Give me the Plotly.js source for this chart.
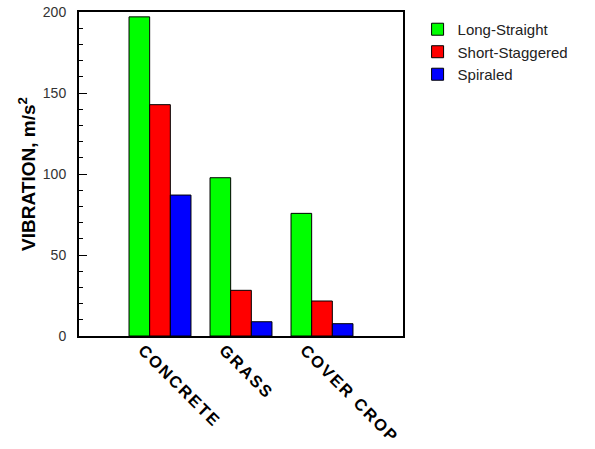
<!DOCTYPE html>
<html>
<head>
<meta charset="utf-8">
<script src="https://cdn.plot.ly/plotly-3.0.1.min.js"></script>
<style>html,body{margin:0;padding:0;background:#fff;}#chart{width:595px;height:449px;}
.xtick text{letter-spacing:2px;}</style>
</head>
<body>
<div id="chart"></div>
<script>
const categories = ["CONCRETE", "GRASS", "COVER CROP"];
const seriesNames = ["Long-Straight", "Short-Staggered", "Spiraled"];
const longStraight = [197, 97.7, 75.7];
const shortStaggered = [142.8, 28.2, 21.6];
const spiraled = [87, 8.8, 7.6];
const yTicks = [0, 50, 100, 150, 200];
const colors = ["#00FF00", "#FF0000", "#0000FF"];

const values = [longStraight, shortStaggered, spiraled];
const traces = values.map((v, i) => ({
  type: "bar",
  x: [0, 1, 2],
  y: v,
  name: seriesNames[i],
  marker: {color: colors[i], line: {color: "#000", width: 1}}
}));

const layout = {
  width: 595, height: 449,
  margin: {l: 79, r: 192, t: 12, b: 113},
  paper_bgcolor: "#fff", plot_bgcolor: "#fff",
  font: {family: "Liberation Sans, Arial, sans-serif", color: "#222"},
  barmode: "group",
  bargap: 0.235,
  bargroupgap: 0,
  showlegend: true,
  legend: {
    x: 1.045, xanchor: "left", y: 0.997, yanchor: "top",
    font: {size: 15, color: "#222"},
    bgcolor: "rgba(0,0,0,0)"
  },
  xaxis: {
    range: [-1, 3],
    tickmode: "array",
    tickvals: [0, 1, 2],
    ticktext: categories,
    tickangle: 45,
    ticks: "",
    ticklabelshift: -17,
    ticklabelstandoff: -4,
    showgrid: false, zeroline: false,
    showline: true, mirror: true, linecolor: "#000", linewidth: 2,
    tickfont: {size: 16.5, color: "#000", family: "Liberation Sans, Arial, sans-serif", weight: "bold"}
  },
  yaxis: {
    range: [0, 200],
    tickmode: "array",
    tickvals: yTicks,
    ticks: "inside", ticklen: 8, tickwidth: 1, tickcolor: "#000",
    minor: {dtick: 10, ticks: "inside", ticklen: 4, tickcolor: "#000", tickwidth: 1},
    showgrid: false, zeroline: false,
    showline: true, mirror: true, linecolor: "#000", linewidth: 2,
    ticklabelstandoff: 8,
    tickfont: {size: 14, color: "#333"},
    title: {text: "VIBRATION, m/s<sup>2</sup>", standoff: 2, font: {size: 19, color: "#000", weight: "bold"}}
  }
};

Plotly.newPlot("chart", traces, layout, {displayModeBar: false, staticPlot: true});
</script>
</body>
</html>
